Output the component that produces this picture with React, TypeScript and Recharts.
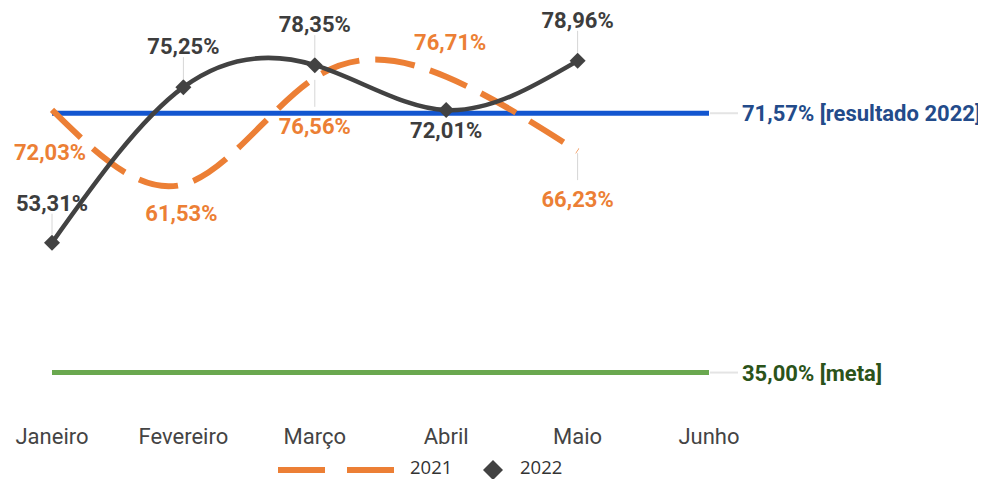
import { LineChart, Line, XAxis, YAxis, ReferenceLine, LabelList } from 'recharts';

const months = ['Janeiro', 'Fevereiro', 'Março', 'Abril', 'Maio', 'Junho'];
const values2021 = [72.03, 61.53, 76.56, 76.71, 66.23, null];
const values2022 = [53.31, 75.25, 78.35, 72.01, 78.96, null];
const resultado2022 = 71.57;
const meta = 35.0;

// where each data label sits relative to its point (px)
const labelDy2021 = [50, 37, 56, -27, 56];
const labelDx2021 = [-2, -2, 0, 4, 0];
const leader2021 = [false, false, true, false, true];
const labelDy2022 = [-32, -33, -33, 28, -33];
const labelDx2022 = [0, 0, 0, 0, 0];
const leader2022 = [true, true, true, false, true];

const ORANGE = '#ec7f35';
const GRAY = '#424242';
const BLUE = '#1356d0';
const GREEN = '#6aa84f';
const FONT = 'Roboto, sans-serif';

const data = months.map((m, i) => ({ month: m, v2021: values2021[i], v2022: values2022[i] }));

const fmt = (v: number) => v.toFixed(2).replace('.', ',') + '%';

const makeLabel =
  (color: string, dys: number[], dxs: number[], leaders: boolean[]) =>
  (props: any) => {
    const { x, y, value, index } = props;
    if (value == null || dys[index] == null) return null;
    const dy = dys[index];
    const ty = y + dy;
    const above = dy < 0;
    return (
      <g>
        {leaders[index] && (
          <line
            x1={x}
            x2={x}
            y1={above ? ty + 3 : y + 2}
            y2={above ? y - 8 : ty - 27}
            stroke="#d6d6d6"
            strokeWidth={1}
          />
        )}
        <text
          x={x + dxs[index]}
          y={ty}
          textAnchor="middle"
          fontSize={22}
          fontWeight={700}
          fill={color}
          fontFamily={FONT}
        >
          {fmt(value)}
        </text>
      </g>
    );
  };

const Diamond = ({ cx, cy, value }: any) => {
  if (value == null || cx == null) return null;
  const r = 8;
  return (
    <path
      d={`M${cx},${cy - r}L${cx + r},${cy}L${cx},${cy + r}L${cx - r},${cy}Z`}
      fill={GRAY}
    />
  );
};

const refLabel = (text: string, color: string) => (props: any) => {
  const { x, y, width } = props.viewBox;
  const end = x + width;
  return (
    <g>
      <line x1={end + 1} x2={end + 29} y1={y} y2={y} stroke="#e4e4e4" strokeWidth={2} />
      <text x={end + 33} y={y + 8} fontSize={22} fontWeight={700} fill={color} fontFamily={FONT}>
        {text}
      </text>
    </g>
  );
};

const Legend2 = () => (
  <svg width={978} height={31} style={{ position: 'absolute', left: 0, top: 440 }}>
    <line x1={270} x2={386} y1={22} y2={22} stroke={ORANGE} strokeWidth={6} strokeDasharray="47 22" />
    <text x={402} y={26} fontSize={18.5} fill="#333" fontFamily="'Open Sans', sans-serif">
      2021
    </text>
    <path d="M485,12L495,22L485,32L475,22Z" fill={GRAY} />
    <text x={512} y={26} fontSize={18.5} fill="#333" fontFamily="'Open Sans', sans-serif">
      2022
    </text>
  </svg>
);

export default function App() {
  return (
    <div style={{ position: 'relative', width: 978, height: 471 }}>
      <LineChart
        width={978}
        height={463}
        data={data}
        margin={{ top: 10, right: 277, bottom: 23, left: 44 }}
      >
        <XAxis
          dataKey="month"
          axisLine={false}
          tickLine={false}
          height={40}
          tickMargin={14}
          interval={0}
          tick={{ fontSize: 22, fill: '#444', fontFamily: FONT }}
        />
        <YAxis hide domain={[30, 85]} />
        <ReferenceLine
          y={resultado2022}
          stroke={BLUE}
          strokeWidth={5}
          label={refLabel(`${fmt(resultado2022)} [resultado 2022]`, '#234b8a')}
        />
        <ReferenceLine
          y={meta}
          stroke={GREEN}
          strokeWidth={5}
          label={refLabel(`${fmt(meta)} [meta]`, '#2b531a')}
        />
        <Line
          dataKey="v2021"
          type="natural"
          stroke={ORANGE}
          strokeWidth={6}
          strokeDasharray="40 16"
          dot={false}
          activeDot={false}
          isAnimationActive={false}
        >
          <LabelList dataKey="v2021" content={makeLabel(ORANGE, labelDy2021, labelDx2021, leader2021)} />
        </Line>
        <Line
          dataKey="v2022"
          type="natural"
          stroke={GRAY}
          strokeWidth={4.5}
          dot={<Diamond />}
          activeDot={false}
          isAnimationActive={false}
        >
          <LabelList dataKey="v2022" content={makeLabel('#3d3d3d', labelDy2022, labelDx2022, leader2022)} />
        </Line>
      </LineChart>
      <Legend2 />
    </div>
  );
}
